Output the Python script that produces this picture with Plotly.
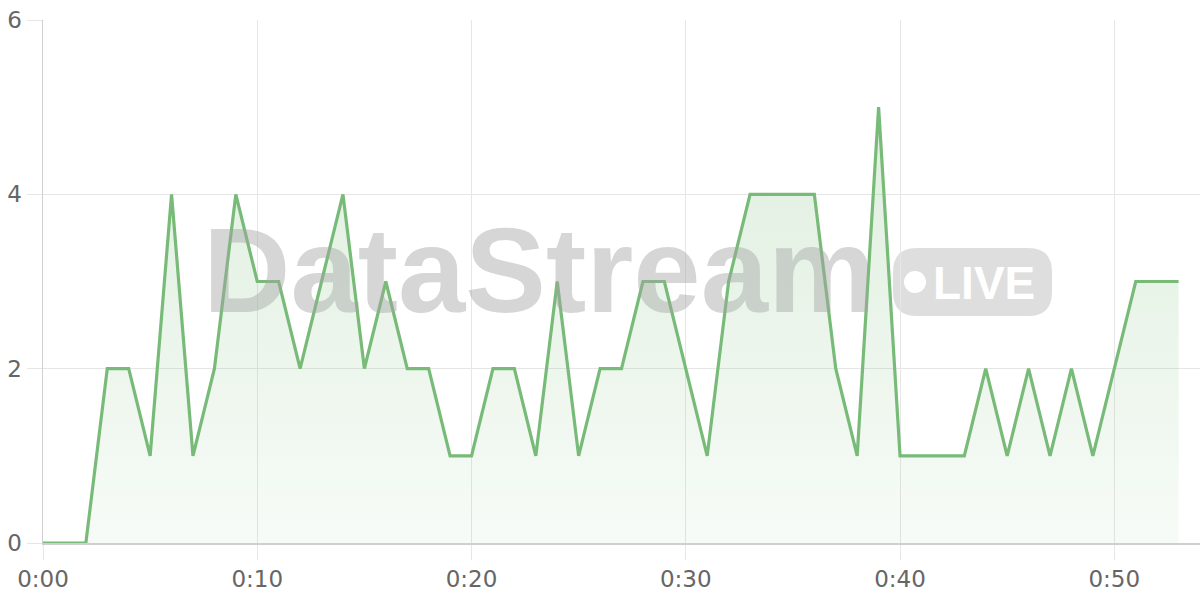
import plotly.graph_objects as go

# ---- data ----
minutes = list(range(0, 54))
values = [0, 0, 0, 2, 2, 1, 4, 1, 2, 4,
          3, 3, 2, 3, 4, 2, 3, 2, 2, 1,
          1, 2, 2, 1, 3, 1, 2, 2, 3, 3,
          2, 1, 3, 4, 4, 4, 4, 2, 1, 5,
          1, 1, 1, 1, 2, 1, 2, 1, 2, 1,
          2, 3, 3, 3]
x_tick_vals = [0, 10, 20, 30, 40, 50]
x_tick_text = ["0:00", "0:10", "0:20", "0:30", "0:40", "0:50"]
y_tick_vals = [0, 2, 4, 6]
y_tick_text = ["0", "2", "4", "6"]

LINE = "rgb(120,187,120)"
GRID = "#e6e6e6"
AXIS = "#cfcfcf"
TEXT = "#666666"
TICKFONT = "DejaVu Sans"

W, H = 1200, 600
ML, MR, MT, MB = 43, 0, 20, 57
PW, PH = W - ML - MR, H - MT - MB

def px(xp):
    return (xp - ML) / PW

def py(yp):
    return (H - MB - yp) / PH

def rounded_rect(x0, y0, x1, y1, r):
    pts = []
    pts.append(f"M {px(x0 + r)},{py(y0)}")
    pts.append(f"L {px(x1 - r)},{py(y0)}")
    pts.append(f"Q {px(x1)},{py(y0)} {px(x1)},{py(y0 + r)}")
    pts.append(f"L {px(x1)},{py(y1 - r)}")
    pts.append(f"Q {px(x1)},{py(y1)} {px(x1 - r)},{py(y1)}")
    pts.append(f"L {px(x0 + r)},{py(y1)}")
    pts.append(f"Q {px(x0)},{py(y1)} {px(x0)},{py(y1 - r)}")
    pts.append(f"L {px(x0)},{py(y0 + r)}")
    pts.append(f"Q {px(x0)},{py(y0)} {px(x0 + r)},{py(y0)}")
    pts.append("Z")
    return " ".join(pts)

fig = go.Figure()
fig.add_trace(go.Scatter(
    x=minutes, y=values, mode="lines",
    line=dict(color=LINE, width=3.2),
    fill="tozeroy",
    fillgradient=dict(
        type="vertical",
        colorscale=[[0, "rgba(120,187,120,0.06)"], [1, "rgba(120,187,120,0.24)"]],
    ),
    hoverinfo="skip",
    showlegend=False,
))

# watermark pill
fig.add_shape(type="path", xref="paper", yref="paper",
              path=rounded_rect(893, 248, 1052, 316, 24),
              fillcolor="rgba(200,200,200,0.6)", line=dict(width=0), layer="below")
fig.add_shape(type="circle", xref="paper", yref="paper",
              x0=px(904), x1=px(926), y0=py(293), y1=py(271),
              fillcolor="white", line=dict(width=0), layer="above")

fig.add_annotation(text="DataStream", xref="paper", yref="paper",
                   x=px(539), y=py(270), xanchor="center", yanchor="middle",
                   showarrow=False,
                   font=dict(family="Liberation Sans", size=121, weight="bold",
                             color="rgba(165,165,165,0.45)"))
fig.add_annotation(text="LIVE", xref="paper", yref="paper",
                   x=px(984), y=py(283), xanchor="center", yanchor="middle",
                   showarrow=False,
                   font=dict(family="Liberation Sans", size=46, weight="bold",
                             color="white"))

fig.update_layout(
    width=W, height=H,
    margin=dict(l=ML, r=MR, t=MT, b=MB, autoexpand=False),
    paper_bgcolor="white", plot_bgcolor="white",
    font=dict(family=TICKFONT, color=TEXT),
    xaxis=dict(range=[0, 54], tickvals=x_tick_vals, ticktext=x_tick_text,
               showgrid=True, gridcolor=GRID, gridwidth=1,
               ticks="outside", ticklen=15, tickcolor=GRID,
               showline=True, linecolor=AXIS, linewidth=1.5,
               zeroline=False, automargin=False,
               tickfont=dict(family=TICKFONT, size=23, color=TEXT)),
    yaxis=dict(range=[0, 6], tickvals=y_tick_vals, ticktext=y_tick_text,
               showgrid=True, gridcolor=GRID, gridwidth=1,
               ticks="outside", ticklen=15, tickcolor=GRID,
               showline=True, linecolor=AXIS, linewidth=1.5,
               zeroline=False, automargin=False,
               tickfont=dict(family=TICKFONT, size=23, color=TEXT)),
)

fig.write_html("out.html",
               config={"displayModeBar": False, "staticPlot": True},
               post_script="document.body.style.margin='0';document.body.style.overflow='hidden';")
